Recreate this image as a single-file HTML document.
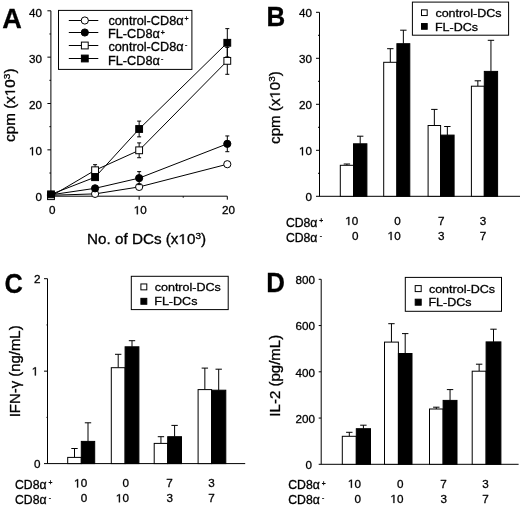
<!DOCTYPE html>
<html><head><meta charset="utf-8"><style>
html,body{margin:0;padding:0;background:#fff;overflow:hidden;}
svg{display:block;filter:grayscale(1);}
text{font-family:"Liberation Sans", sans-serif;stroke:#000;stroke-width:0.3px;}
</style></head><body>
<svg width="520" height="506" viewBox="0 0 520 506" shape-rendering="auto">
<rect width="520" height="506" fill="#fff"/>
<text transform="translate(2.22,28.00) scale(0.9750,1)" font-size="27.8" font-weight="bold" fill="#000">A</text>
<text transform="translate(266.62,26.20) scale(0.9540,1)" font-size="27.15" font-weight="bold" fill="#000">B</text>
<text transform="translate(4.49,292.50) scale(0.8900,1)" font-size="28.5" font-weight="bold" fill="#000">C</text>
<text transform="translate(266.22,291.70) scale(0.9400,1)" font-size="27.5" font-weight="bold" fill="#000">D</text>
<line x1="50.90" y1="10.80" x2="50.90" y2="196.20" stroke="#000" stroke-width="1"/>
<line x1="47.40" y1="196.20" x2="50.90" y2="196.20" stroke="#000" stroke-width="1"/>
<line x1="49.40" y1="173.02" x2="50.90" y2="173.02" stroke="#000" stroke-width="1"/>
<line x1="47.40" y1="149.85" x2="50.90" y2="149.85" stroke="#000" stroke-width="1"/>
<line x1="49.40" y1="126.67" x2="50.90" y2="126.67" stroke="#000" stroke-width="1"/>
<line x1="47.40" y1="103.50" x2="50.90" y2="103.50" stroke="#000" stroke-width="1"/>
<line x1="49.40" y1="80.32" x2="50.90" y2="80.32" stroke="#000" stroke-width="1"/>
<line x1="47.40" y1="57.15" x2="50.90" y2="57.15" stroke="#000" stroke-width="1"/>
<line x1="49.40" y1="33.97" x2="50.90" y2="33.97" stroke="#000" stroke-width="1"/>
<line x1="47.40" y1="10.80" x2="50.90" y2="10.80" stroke="#000" stroke-width="1"/>
<line x1="50.90" y1="196.20" x2="227.30" y2="196.20" stroke="#000" stroke-width="1"/>
<line x1="51.00" y1="196.20" x2="51.00" y2="199.70" stroke="#000" stroke-width="1"/>
<line x1="95.07" y1="196.20" x2="95.07" y2="197.70" stroke="#000" stroke-width="1"/>
<line x1="139.15" y1="196.20" x2="139.15" y2="199.70" stroke="#000" stroke-width="1"/>
<line x1="183.22" y1="196.20" x2="183.22" y2="197.70" stroke="#000" stroke-width="1"/>
<line x1="227.30" y1="196.20" x2="227.30" y2="199.70" stroke="#000" stroke-width="1"/>
<text transform="translate(29.04,16.65) scale(0.9900,1)" font-size="11.8" fill="#000">40</text>
<text transform="translate(29.04,62.85) scale(0.9900,1)" font-size="11.8" fill="#000">30</text>
<text transform="translate(29.04,109.05) scale(0.9900,1)" font-size="11.8" fill="#000">20</text>
<g transform="translate(29.04,155.25) scale(0.9900,1)"><text font-size="11.8" fill="#000"> 0</text><polygon points="2.967,0.000 4.010,0.000 4.010,-8.118 3.054,-8.118 0.979,-6.741 0.979,-5.762 2.967,-7.127" fill="#000" stroke="#000" stroke-width="0.3"/></g>
<text transform="translate(35.58,201.45) scale(0.9900,1)" font-size="11.8" fill="#000">0</text>
<text transform="translate(49.06,214.30) scale(0.9900,1)" font-size="11.8" fill="#000">0</text>
<g transform="translate(133.88,214.30) scale(0.9900,1)"><text font-size="11.8" fill="#000"> 0</text><polygon points="2.967,0.000 4.010,0.000 4.010,-8.118 3.054,-8.118 0.979,-6.741 0.979,-5.762 2.967,-7.127" fill="#000" stroke="#000" stroke-width="0.3"/></g>
<text transform="translate(222.03,214.30) scale(0.9900,1)" font-size="11.8" fill="#000">20</text>
<polyline points="51.00,195.27 95.07,193.88 139.15,186.93 227.30,164.22" fill="none" stroke="#000" stroke-width="1"/>
<polyline points="51.00,194.81 95.07,188.32 139.15,178.12 227.30,143.82" fill="none" stroke="#000" stroke-width="1"/>
<polyline points="51.00,196.20 95.07,170.24 139.15,150.31 227.30,60.86" fill="none" stroke="#000" stroke-width="1"/>
<polyline points="51.00,194.35 95.07,177.20 139.15,128.99 227.30,42.78" fill="none" stroke="#000" stroke-width="1"/>
<line x1="139.15" y1="185.54" x2="139.15" y2="188.32" stroke="#000" stroke-width="1"/>
<line x1="137.15" y1="185.54" x2="141.15" y2="185.54" stroke="#000" stroke-width="1"/>
<line x1="137.15" y1="188.32" x2="141.15" y2="188.32" stroke="#000" stroke-width="1"/>
<line x1="227.30" y1="162.83" x2="227.30" y2="165.61" stroke="#000" stroke-width="1"/>
<line x1="225.30" y1="162.83" x2="229.30" y2="162.83" stroke="#000" stroke-width="1"/>
<line x1="225.30" y1="165.61" x2="229.30" y2="165.61" stroke="#000" stroke-width="1"/>
<circle cx="51.00" cy="195.27" r="3.60" fill="#fff" stroke="#000" stroke-width="1"/>
<circle cx="95.07" cy="193.88" r="3.60" fill="#fff" stroke="#000" stroke-width="1"/>
<circle cx="139.15" cy="186.93" r="3.60" fill="#fff" stroke="#000" stroke-width="1"/>
<circle cx="227.30" cy="164.22" r="3.60" fill="#fff" stroke="#000" stroke-width="1"/>
<line x1="95.07" y1="186.93" x2="95.07" y2="189.71" stroke="#000" stroke-width="1"/>
<line x1="93.07" y1="186.93" x2="97.07" y2="186.93" stroke="#000" stroke-width="1"/>
<line x1="93.07" y1="189.71" x2="97.07" y2="189.71" stroke="#000" stroke-width="1"/>
<line x1="139.15" y1="171.63" x2="139.15" y2="184.61" stroke="#000" stroke-width="1"/>
<line x1="137.15" y1="171.63" x2="141.15" y2="171.63" stroke="#000" stroke-width="1"/>
<line x1="137.15" y1="184.61" x2="141.15" y2="184.61" stroke="#000" stroke-width="1"/>
<line x1="227.30" y1="135.94" x2="227.30" y2="151.70" stroke="#000" stroke-width="1"/>
<line x1="225.30" y1="135.94" x2="229.30" y2="135.94" stroke="#000" stroke-width="1"/>
<line x1="225.30" y1="151.70" x2="229.30" y2="151.70" stroke="#000" stroke-width="1"/>
<circle cx="51.00" cy="194.81" r="3.60" fill="#000" stroke="#000" stroke-width="1"/>
<circle cx="95.07" cy="188.32" r="3.60" fill="#000" stroke="#000" stroke-width="1"/>
<circle cx="139.15" cy="178.12" r="3.60" fill="#000" stroke="#000" stroke-width="1"/>
<circle cx="227.30" cy="143.82" r="3.60" fill="#000" stroke="#000" stroke-width="1"/>
<line x1="95.07" y1="164.68" x2="95.07" y2="175.81" stroke="#000" stroke-width="1"/>
<line x1="93.07" y1="164.68" x2="97.07" y2="164.68" stroke="#000" stroke-width="1"/>
<line x1="93.07" y1="175.81" x2="97.07" y2="175.81" stroke="#000" stroke-width="1"/>
<line x1="139.15" y1="142.90" x2="139.15" y2="157.73" stroke="#000" stroke-width="1"/>
<line x1="137.15" y1="142.90" x2="141.15" y2="142.90" stroke="#000" stroke-width="1"/>
<line x1="137.15" y1="157.73" x2="141.15" y2="157.73" stroke="#000" stroke-width="1"/>
<line x1="227.30" y1="47.42" x2="227.30" y2="74.30" stroke="#000" stroke-width="1"/>
<line x1="225.30" y1="47.42" x2="229.30" y2="47.42" stroke="#000" stroke-width="1"/>
<line x1="225.30" y1="74.30" x2="229.30" y2="74.30" stroke="#000" stroke-width="1"/>
<rect x="47.60" y="192.80" width="6.80" height="6.80" fill="#fff" stroke="#000" stroke-width="1"/>
<rect x="91.67" y="166.84" width="6.80" height="6.80" fill="#fff" stroke="#000" stroke-width="1"/>
<rect x="135.75" y="146.91" width="6.80" height="6.80" fill="#fff" stroke="#000" stroke-width="1"/>
<rect x="223.90" y="57.46" width="6.80" height="6.80" fill="#fff" stroke="#000" stroke-width="1"/>
<line x1="95.07" y1="174.88" x2="95.07" y2="179.51" stroke="#000" stroke-width="1"/>
<line x1="93.07" y1="174.88" x2="97.07" y2="174.88" stroke="#000" stroke-width="1"/>
<line x1="93.07" y1="179.51" x2="97.07" y2="179.51" stroke="#000" stroke-width="1"/>
<line x1="139.15" y1="121.11" x2="139.15" y2="136.87" stroke="#000" stroke-width="1"/>
<line x1="137.15" y1="121.11" x2="141.15" y2="121.11" stroke="#000" stroke-width="1"/>
<line x1="137.15" y1="136.87" x2="141.15" y2="136.87" stroke="#000" stroke-width="1"/>
<line x1="227.30" y1="28.64" x2="227.30" y2="56.92" stroke="#000" stroke-width="1"/>
<line x1="225.30" y1="28.64" x2="229.30" y2="28.64" stroke="#000" stroke-width="1"/>
<line x1="225.30" y1="56.92" x2="229.30" y2="56.92" stroke="#000" stroke-width="1"/>
<rect x="47.60" y="190.95" width="6.80" height="6.80" fill="#000" stroke="#000" stroke-width="1"/>
<rect x="91.67" y="173.80" width="6.80" height="6.80" fill="#000" stroke="#000" stroke-width="1"/>
<rect x="135.75" y="125.59" width="6.80" height="6.80" fill="#000" stroke="#000" stroke-width="1"/>
<rect x="223.90" y="39.38" width="6.80" height="6.80" fill="#000" stroke="#000" stroke-width="1"/>
<rect x="58.50" y="10.40" width="133.40" height="59.00" fill="none" stroke="#000" stroke-width="1"/>
<line x1="68.80" y1="20.50" x2="98.30" y2="20.50" stroke="#000" stroke-width="1"/>
<circle cx="84.80" cy="20.50" r="3.60" fill="#fff" stroke="#000" stroke-width="1"/>
<text transform="translate(108.43,25.00) scale(1.0600,1)" font-size="12.0" fill="#000">control-CD8α<tspan font-size="6.6" dx="0.9" dy="-3.6">+</tspan></text>
<line x1="68.80" y1="32.50" x2="98.30" y2="32.50" stroke="#000" stroke-width="1"/>
<circle cx="84.80" cy="32.50" r="3.60" fill="#000" stroke="#000" stroke-width="1"/>
<text transform="translate(107.98,38.20) scale(1.0600,1)" font-size="12.0" fill="#000">FL-CD8α<tspan font-size="6.6" dx="0.9" dy="-3.6">+</tspan></text>
<line x1="68.80" y1="45.50" x2="98.30" y2="45.50" stroke="#000" stroke-width="1"/>
<rect x="81.40" y="42.10" width="6.80" height="6.80" fill="#fff" stroke="#000" stroke-width="1"/>
<text transform="translate(108.43,51.40) scale(1.0600,1)" font-size="12.0" fill="#000">control-CD8α<tspan font-size="6.6" dx="1.2" dy="-4.0">-</tspan></text>
<line x1="68.80" y1="58.50" x2="98.30" y2="58.50" stroke="#000" stroke-width="1"/>
<rect x="81.40" y="55.10" width="6.80" height="6.80" fill="#000" stroke="#000" stroke-width="1"/>
<text transform="translate(107.98,64.50) scale(1.0600,1)" font-size="12.0" fill="#000">FL-CD8α<tspan font-size="6.6" dx="1.2" dy="-4.0">-</tspan></text>
<g transform="translate(86.98,243.90) scale(1.0900,1)"><text font-size="14.0" fill="#000">No. of DCs (x 0<tspan font-size="9.2" dx="0" dy="-5.3">3</tspan><tspan dy="5.3">)</tspan></text><polygon points="87.535,0.000 88.772,0.000 88.772,-9.632 87.637,-9.632 85.176,-7.998 85.176,-6.836 87.535,-8.456" fill="#000" stroke="#000" stroke-width="0.3"/></g>
<g transform="translate(14.90,141.89) rotate(-90) scale(1.0900,1)"><text font-size="14.0" fill="#000">cpm (x 0<tspan font-size="9.2" dx="0" dy="-5.3">3</tspan><tspan dy="5.3">)</tspan></text><polygon points="45.521,0.000 46.758,0.000 46.758,-9.632 45.623,-9.632 43.162,-7.998 43.162,-6.836 45.521,-8.456" fill="#000" stroke="#000" stroke-width="0.3"/></g>
<line x1="319.50" y1="12.30" x2="319.50" y2="196.30" stroke="#000" stroke-width="1"/>
<line x1="316.00" y1="150.30" x2="319.50" y2="150.30" stroke="#000" stroke-width="1"/>
<line x1="316.00" y1="104.30" x2="319.50" y2="104.30" stroke="#000" stroke-width="1"/>
<line x1="316.00" y1="58.30" x2="319.50" y2="58.30" stroke="#000" stroke-width="1"/>
<line x1="316.00" y1="12.30" x2="319.50" y2="12.30" stroke="#000" stroke-width="1"/>
<line x1="318.00" y1="173.30" x2="319.50" y2="173.30" stroke="#000" stroke-width="1"/>
<line x1="318.00" y1="127.30" x2="319.50" y2="127.30" stroke="#000" stroke-width="1"/>
<line x1="318.00" y1="81.30" x2="319.50" y2="81.30" stroke="#000" stroke-width="1"/>
<line x1="318.00" y1="35.30" x2="319.50" y2="35.30" stroke="#000" stroke-width="1"/>
<line x1="316.00" y1="196.30" x2="520.00" y2="196.30" stroke="#000" stroke-width="1"/>
<line x1="346.90" y1="164.00" x2="346.90" y2="165.30" stroke="#000" stroke-width="1"/>
<line x1="343.70" y1="164.00" x2="350.10" y2="164.00" stroke="#000" stroke-width="1"/>
<line x1="360.20" y1="136.20" x2="360.20" y2="143.80" stroke="#000" stroke-width="1"/>
<line x1="357.00" y1="136.20" x2="363.40" y2="136.20" stroke="#000" stroke-width="1"/>
<rect x="340.30" y="165.30" width="13.20" height="31.00" fill="#fff" stroke="#000" stroke-width="1"/>
<rect x="353.50" y="143.80" width="13.40" height="52.50" fill="#000" stroke="#000" stroke-width="1"/>
<line x1="390.30" y1="48.70" x2="390.30" y2="62.30" stroke="#000" stroke-width="1"/>
<line x1="387.10" y1="48.70" x2="393.50" y2="48.70" stroke="#000" stroke-width="1"/>
<line x1="403.35" y1="30.20" x2="403.35" y2="43.70" stroke="#000" stroke-width="1"/>
<line x1="400.15" y1="30.20" x2="406.55" y2="30.20" stroke="#000" stroke-width="1"/>
<rect x="383.70" y="62.30" width="13.20" height="134.00" fill="#fff" stroke="#000" stroke-width="1"/>
<rect x="396.90" y="43.70" width="12.90" height="152.60" fill="#000" stroke="#000" stroke-width="1"/>
<line x1="434.35" y1="109.40" x2="434.35" y2="125.50" stroke="#000" stroke-width="1"/>
<line x1="431.15" y1="109.40" x2="437.55" y2="109.40" stroke="#000" stroke-width="1"/>
<line x1="447.35" y1="126.50" x2="447.35" y2="135.10" stroke="#000" stroke-width="1"/>
<line x1="444.15" y1="126.50" x2="450.55" y2="126.50" stroke="#000" stroke-width="1"/>
<rect x="428.10" y="125.50" width="12.50" height="70.80" fill="#fff" stroke="#000" stroke-width="1"/>
<rect x="440.60" y="135.10" width="13.50" height="61.20" fill="#000" stroke="#000" stroke-width="1"/>
<line x1="477.85" y1="80.80" x2="477.85" y2="86.20" stroke="#000" stroke-width="1"/>
<line x1="474.65" y1="80.80" x2="481.05" y2="80.80" stroke="#000" stroke-width="1"/>
<line x1="490.95" y1="40.30" x2="490.95" y2="71.40" stroke="#000" stroke-width="1"/>
<line x1="487.75" y1="40.30" x2="494.15" y2="40.30" stroke="#000" stroke-width="1"/>
<rect x="471.40" y="86.20" width="12.90" height="110.10" fill="#fff" stroke="#000" stroke-width="1"/>
<rect x="484.30" y="71.40" width="13.30" height="124.90" fill="#000" stroke="#000" stroke-width="1"/>
<rect x="412.40" y="2.10" width="96.20" height="33.10" fill="none" stroke="#000" stroke-width="1"/>
<rect x="421.50" y="9.85" width="5.70" height="5.70" fill="#fff" stroke="#000" stroke-width="1"/>
<rect x="421.50" y="23.55" width="5.70" height="5.70" fill="#000" stroke="#000" stroke-width="1"/>
<text transform="translate(435.39,16.80) scale(1.1000,1)" font-size="11.4" fill="#000">control-DCs</text>
<text transform="translate(434.95,30.50) scale(1.1000,1)" font-size="11.4" fill="#000">FL-DCs</text>
<text transform="translate(299.04,17.45) scale(0.9900,1)" font-size="11.8" fill="#000">40</text>
<text transform="translate(299.04,63.39) scale(0.9900,1)" font-size="11.8" fill="#000">30</text>
<text transform="translate(299.04,109.33) scale(0.9900,1)" font-size="11.8" fill="#000">20</text>
<g transform="translate(299.04,155.27) scale(0.9900,1)"><text font-size="11.8" fill="#000"> 0</text><polygon points="2.967,0.000 4.010,0.000 4.010,-8.118 3.054,-8.118 0.979,-6.741 0.979,-5.762 2.967,-7.127" fill="#000" stroke="#000" stroke-width="0.3"/></g>
<text transform="translate(305.58,201.21) scale(0.9900,1)" font-size="11.8" fill="#000">0</text>
<text transform="translate(285.89,226.60) scale(1.0200,1)" font-size="12.0" fill="#000">CD8α<tspan font-size="6.6" dx="1.9" dy="-3.6">+</tspan></text>
<text transform="translate(285.89,241.80) scale(1.0200,1)" font-size="12.0" fill="#000">CD8α<tspan font-size="6.6" dx="2.2" dy="-4.0">-</tspan></text>
<g transform="translate(345.34,225.10) scale(0.9900,1)"><text font-size="11.8" fill="#000"> 0</text><polygon points="2.967,0.000 4.010,0.000 4.010,-8.118 3.054,-8.118 0.979,-6.741 0.979,-5.762 2.967,-7.127" fill="#000" stroke="#000" stroke-width="0.3"/></g>
<text transform="translate(351.88,240.00) scale(0.9900,1)" font-size="11.8" fill="#000">0</text>
<text transform="translate(394.18,225.10) scale(0.9900,1)" font-size="11.8" fill="#000">0</text>
<g transform="translate(387.64,240.00) scale(0.9900,1)"><text font-size="11.8" fill="#000"> 0</text><polygon points="2.967,0.000 4.010,0.000 4.010,-8.118 3.054,-8.118 0.979,-6.741 0.979,-5.762 2.967,-7.127" fill="#000" stroke="#000" stroke-width="0.3"/></g>
<text transform="translate(438.01,225.10) scale(0.9900,1)" font-size="11.8" fill="#000">7</text>
<text transform="translate(438.04,240.00) scale(0.9900,1)" font-size="11.8" fill="#000">3</text>
<text transform="translate(479.69,225.10) scale(0.9900,1)" font-size="11.8" fill="#000">3</text>
<text transform="translate(479.66,240.00) scale(0.9900,1)" font-size="11.8" fill="#000">7</text>
<g transform="translate(279.80,143.88) rotate(-90) scale(1.0800,1)"><text font-size="14.0" fill="#000">cpm (x 0<tspan font-size="9.2" dx="0" dy="-5.3">3</tspan><tspan dy="5.3">)</tspan></text><polygon points="45.521,0.000 46.758,0.000 46.758,-9.632 45.623,-9.632 43.162,-7.998 43.162,-6.836 45.521,-8.456" fill="#000" stroke="#000" stroke-width="0.3"/></g>
<line x1="47.50" y1="278.70" x2="47.50" y2="463.60" stroke="#000" stroke-width="1"/>
<line x1="44.00" y1="371.15" x2="47.50" y2="371.15" stroke="#000" stroke-width="1"/>
<line x1="44.00" y1="278.70" x2="47.50" y2="278.70" stroke="#000" stroke-width="1"/>
<line x1="46.50" y1="417.38" x2="47.50" y2="417.38" stroke="#000" stroke-width="1"/>
<line x1="46.50" y1="324.93" x2="47.50" y2="324.93" stroke="#000" stroke-width="1"/>
<line x1="44.00" y1="463.60" x2="245.20" y2="463.60" stroke="#000" stroke-width="1"/>
<line x1="74.50" y1="448.50" x2="74.50" y2="457.40" stroke="#000" stroke-width="1"/>
<line x1="71.30" y1="448.50" x2="77.70" y2="448.50" stroke="#000" stroke-width="1"/>
<line x1="88.00" y1="422.80" x2="88.00" y2="441.40" stroke="#000" stroke-width="1"/>
<line x1="84.80" y1="422.80" x2="91.20" y2="422.80" stroke="#000" stroke-width="1"/>
<rect x="67.70" y="457.40" width="13.60" height="6.20" fill="#fff" stroke="#000" stroke-width="1"/>
<rect x="81.30" y="441.40" width="13.40" height="22.20" fill="#000" stroke="#000" stroke-width="1"/>
<line x1="118.20" y1="354.30" x2="118.20" y2="367.70" stroke="#000" stroke-width="1"/>
<line x1="115.00" y1="354.30" x2="121.40" y2="354.30" stroke="#000" stroke-width="1"/>
<line x1="132.00" y1="340.70" x2="132.00" y2="346.80" stroke="#000" stroke-width="1"/>
<line x1="128.80" y1="340.70" x2="135.20" y2="340.70" stroke="#000" stroke-width="1"/>
<rect x="111.30" y="367.70" width="13.80" height="95.90" fill="#fff" stroke="#000" stroke-width="1"/>
<rect x="125.10" y="346.80" width="13.80" height="116.80" fill="#000" stroke="#000" stroke-width="1"/>
<line x1="160.95" y1="436.70" x2="160.95" y2="443.40" stroke="#000" stroke-width="1"/>
<line x1="157.75" y1="436.70" x2="164.15" y2="436.70" stroke="#000" stroke-width="1"/>
<line x1="174.60" y1="425.40" x2="174.60" y2="436.70" stroke="#000" stroke-width="1"/>
<line x1="171.40" y1="425.40" x2="177.80" y2="425.40" stroke="#000" stroke-width="1"/>
<rect x="154.20" y="443.40" width="13.50" height="20.20" fill="#fff" stroke="#000" stroke-width="1"/>
<rect x="167.70" y="436.70" width="13.80" height="26.90" fill="#000" stroke="#000" stroke-width="1"/>
<line x1="204.85" y1="368.10" x2="204.85" y2="389.60" stroke="#000" stroke-width="1"/>
<line x1="201.65" y1="368.10" x2="208.05" y2="368.10" stroke="#000" stroke-width="1"/>
<line x1="218.70" y1="369.20" x2="218.70" y2="390.20" stroke="#000" stroke-width="1"/>
<line x1="215.50" y1="369.20" x2="221.90" y2="369.20" stroke="#000" stroke-width="1"/>
<rect x="198.10" y="389.60" width="13.50" height="74.00" fill="#fff" stroke="#000" stroke-width="1"/>
<rect x="211.60" y="390.20" width="14.20" height="73.40" fill="#000" stroke="#000" stroke-width="1"/>
<rect x="131.30" y="276.30" width="96.90" height="33.30" fill="none" stroke="#000" stroke-width="1"/>
<rect x="140.90" y="283.95" width="5.90" height="5.90" fill="#fff" stroke="#000" stroke-width="1"/>
<rect x="140.90" y="298.35" width="5.90" height="5.90" fill="#000" stroke="#000" stroke-width="1"/>
<text transform="translate(154.69,291.00) scale(1.1000,1)" font-size="11.4" fill="#000">control-DCs</text>
<text transform="translate(154.25,305.40) scale(1.1000,1)" font-size="11.4" fill="#000">FL-DCs</text>
<text transform="translate(34.10,283.10) scale(0.9900,1)" font-size="11.8" fill="#000">2</text>
<g transform="translate(31.90,375.40) scale(0.9900,1)"><text font-size="11.8" fill="#000"> </text><polygon points="2.967,0.000 4.010,0.000 4.010,-8.118 3.054,-8.118 0.979,-6.741 0.979,-5.762 2.967,-7.127" fill="#000" stroke="#000" stroke-width="0.3"/></g>
<text transform="translate(33.98,467.70) scale(0.9900,1)" font-size="11.8" fill="#000">0</text>
<text transform="translate(14.99,488.90) scale(1.0200,1)" font-size="12.0" fill="#000">CD8α<tspan font-size="6.6" dx="1.9" dy="-3.6">+</tspan></text>
<text transform="translate(14.99,503.80) scale(1.0200,1)" font-size="12.0" fill="#000">CD8α<tspan font-size="6.6" dx="2.2" dy="-4.0">-</tspan></text>
<g transform="translate(74.14,487.40) scale(0.9900,1)"><text font-size="11.8" fill="#000"> 0</text><polygon points="2.967,0.000 4.010,0.000 4.010,-8.118 3.054,-8.118 0.979,-6.741 0.979,-5.762 2.967,-7.127" fill="#000" stroke="#000" stroke-width="0.3"/></g>
<text transform="translate(80.68,502.30) scale(0.9900,1)" font-size="11.8" fill="#000">0</text>
<text transform="translate(122.48,487.40) scale(0.9900,1)" font-size="11.8" fill="#000">0</text>
<g transform="translate(115.94,502.30) scale(0.9900,1)"><text font-size="11.8" fill="#000"> 0</text><polygon points="2.967,0.000 4.010,0.000 4.010,-8.118 3.054,-8.118 0.979,-6.741 0.979,-5.762 2.967,-7.127" fill="#000" stroke="#000" stroke-width="0.3"/></g>
<text transform="translate(166.36,487.40) scale(0.9900,1)" font-size="11.8" fill="#000">7</text>
<text transform="translate(166.39,502.30) scale(0.9900,1)" font-size="11.8" fill="#000">3</text>
<text transform="translate(208.29,487.40) scale(0.9900,1)" font-size="11.8" fill="#000">3</text>
<text transform="translate(208.26,502.30) scale(0.9900,1)" font-size="11.8" fill="#000">7</text>
<text transform="translate(20.00,417.29) rotate(-90) scale(1.0650,1)" font-size="14.0" fill="#000">IFN-γ (ng/mL)</text>
<line x1="321.20" y1="279.30" x2="321.20" y2="464.30" stroke="#000" stroke-width="1"/>
<line x1="318.70" y1="418.05" x2="321.20" y2="418.05" stroke="#000" stroke-width="1"/>
<line x1="318.70" y1="371.80" x2="321.20" y2="371.80" stroke="#000" stroke-width="1"/>
<line x1="318.70" y1="325.55" x2="321.20" y2="325.55" stroke="#000" stroke-width="1"/>
<line x1="318.70" y1="279.30" x2="321.20" y2="279.30" stroke="#000" stroke-width="1"/>
<line x1="318.70" y1="464.30" x2="518.60" y2="464.30" stroke="#000" stroke-width="1"/>
<line x1="349.30" y1="432.30" x2="349.30" y2="436.30" stroke="#000" stroke-width="1"/>
<line x1="346.10" y1="432.30" x2="352.50" y2="432.30" stroke="#000" stroke-width="1"/>
<line x1="363.40" y1="425.20" x2="363.40" y2="428.70" stroke="#000" stroke-width="1"/>
<line x1="360.20" y1="425.20" x2="366.60" y2="425.20" stroke="#000" stroke-width="1"/>
<rect x="342.30" y="436.30" width="14.00" height="28.00" fill="#fff" stroke="#000" stroke-width="1"/>
<rect x="356.30" y="428.70" width="14.20" height="35.60" fill="#000" stroke="#000" stroke-width="1"/>
<line x1="391.45" y1="323.70" x2="391.45" y2="342.10" stroke="#000" stroke-width="1"/>
<line x1="388.25" y1="323.70" x2="394.65" y2="323.70" stroke="#000" stroke-width="1"/>
<line x1="405.20" y1="333.60" x2="405.20" y2="353.50" stroke="#000" stroke-width="1"/>
<line x1="402.00" y1="333.60" x2="408.40" y2="333.60" stroke="#000" stroke-width="1"/>
<rect x="384.50" y="342.10" width="13.90" height="122.20" fill="#fff" stroke="#000" stroke-width="1"/>
<rect x="398.40" y="353.50" width="13.60" height="110.80" fill="#000" stroke="#000" stroke-width="1"/>
<line x1="436.30" y1="407.20" x2="436.30" y2="409.00" stroke="#000" stroke-width="1"/>
<line x1="433.10" y1="407.20" x2="439.50" y2="407.20" stroke="#000" stroke-width="1"/>
<line x1="450.05" y1="389.60" x2="450.05" y2="400.40" stroke="#000" stroke-width="1"/>
<line x1="446.85" y1="389.60" x2="453.25" y2="389.60" stroke="#000" stroke-width="1"/>
<rect x="429.50" y="409.00" width="13.60" height="55.30" fill="#fff" stroke="#000" stroke-width="1"/>
<rect x="443.10" y="400.40" width="13.90" height="63.90" fill="#000" stroke="#000" stroke-width="1"/>
<line x1="479.15" y1="364.20" x2="479.15" y2="371.20" stroke="#000" stroke-width="1"/>
<line x1="475.95" y1="364.20" x2="482.35" y2="364.20" stroke="#000" stroke-width="1"/>
<line x1="493.50" y1="329.20" x2="493.50" y2="341.90" stroke="#000" stroke-width="1"/>
<line x1="490.30" y1="329.20" x2="496.70" y2="329.20" stroke="#000" stroke-width="1"/>
<rect x="472.20" y="371.20" width="13.90" height="93.10" fill="#fff" stroke="#000" stroke-width="1"/>
<rect x="486.10" y="341.90" width="14.80" height="122.40" fill="#000" stroke="#000" stroke-width="1"/>
<rect x="405.30" y="277.40" width="96.20" height="33.90" fill="none" stroke="#000" stroke-width="1"/>
<rect x="415.20" y="285.60" width="6.00" height="6.00" fill="#fff" stroke="#000" stroke-width="1"/>
<rect x="415.20" y="299.20" width="6.00" height="6.00" fill="#000" stroke="#000" stroke-width="1"/>
<text transform="translate(428.89,292.70) scale(1.1000,1)" font-size="11.4" fill="#000">control-DCs</text>
<text transform="translate(428.45,306.30) scale(1.1000,1)" font-size="11.4" fill="#000">FL-DCs</text>
<text transform="translate(295.56,283.80) scale(0.9900,1)" font-size="11.8" fill="#000">800</text>
<text transform="translate(295.56,330.20) scale(0.9900,1)" font-size="11.8" fill="#000">600</text>
<text transform="translate(295.56,376.60) scale(0.9900,1)" font-size="11.8" fill="#000">400</text>
<text transform="translate(295.56,423.00) scale(0.9900,1)" font-size="11.8" fill="#000">200</text>
<text transform="translate(305.38,469.40) scale(0.9900,1)" font-size="11.8" fill="#000">0</text>
<text transform="translate(288.29,489.40) scale(1.0200,1)" font-size="12.0" fill="#000">CD8α<tspan font-size="6.6" dx="1.9" dy="-3.6">+</tspan></text>
<text transform="translate(288.29,504.30) scale(1.0200,1)" font-size="12.0" fill="#000">CD8α<tspan font-size="6.6" dx="2.2" dy="-4.0">-</tspan></text>
<g transform="translate(347.94,487.80) scale(0.9900,1)"><text font-size="11.8" fill="#000"> 0</text><polygon points="2.967,0.000 4.010,0.000 4.010,-8.118 3.054,-8.118 0.979,-6.741 0.979,-5.762 2.967,-7.127" fill="#000" stroke="#000" stroke-width="0.3"/></g>
<text transform="translate(354.48,503.00) scale(0.9900,1)" font-size="11.8" fill="#000">0</text>
<text transform="translate(396.98,487.80) scale(0.9900,1)" font-size="11.8" fill="#000">0</text>
<g transform="translate(390.44,503.00) scale(0.9900,1)"><text font-size="11.8" fill="#000"> 0</text><polygon points="2.967,0.000 4.010,0.000 4.010,-8.118 3.054,-8.118 0.979,-6.741 0.979,-5.762 2.967,-7.127" fill="#000" stroke="#000" stroke-width="0.3"/></g>
<text transform="translate(440.36,487.80) scale(0.9900,1)" font-size="11.8" fill="#000">7</text>
<text transform="translate(440.39,503.00) scale(0.9900,1)" font-size="11.8" fill="#000">3</text>
<text transform="translate(482.19,487.80) scale(0.9900,1)" font-size="11.8" fill="#000">3</text>
<text transform="translate(482.16,503.00) scale(0.9900,1)" font-size="11.8" fill="#000">7</text>
<text transform="translate(279.70,416.65) rotate(-90) scale(1.0750,1)" font-size="14.0" fill="#000">IL-2 (pg/mL)</text>
</svg></body></html>
